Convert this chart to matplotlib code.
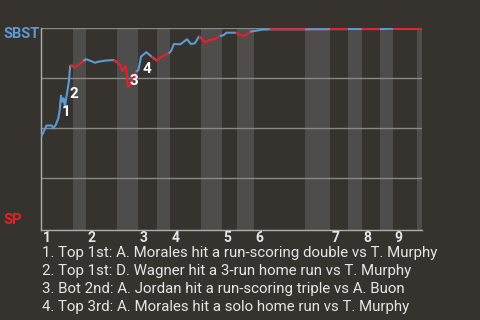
import numpy as np
import matplotlib.pyplot as plt

# Win probability for SBST (away), x = pitch number of the game
pitch = [0, 4, 8, 9, 11, 13, 14, 15, 16, 17, 18, 19, 21, 22, 24,
         25, 29, 32, 34,
         37, 41, 43, 49, 55, 58,
         60, 62, 64, 65, 66, 67, 70, 72, 74,
         76, 80, 84, 88,
         92, 95, 97, 98,
         99, 101, 106, 111, 114, 117, 120, 122,
         125, 128, 132, 136, 138,
         139, 141, 148, 149,
         150, 154, 156, 159, 162,
         168, 174, 201,
         220, 234, 244, 258, 268, 286, 290]
win_prob = [0.456, 0.512, 0.512, 0.498, 0.515, 0.549, 0.590, 0.662, 0.632, 0.649, 0.607, 0.649, 0.732, 0.812, 0.812,
            0.802, 0.819, 0.836, 0.845,
            0.838, 0.827, 0.832, 0.838, 0.841, 0.829,
            0.816, 0.786, 0.811, 0.782, 0.707, 0.707, 0.751, 0.782, 0.791,
            0.858, 0.880, 0.858, 0.838,
            0.858, 0.870, 0.875, 0.880,
            0.888, 0.921, 0.920, 0.945, 0.921, 0.925, 0.958, 0.950,
            0.930, 0.941, 0.945, 0.961, 0.964,
            0.966, 0.978, 0.978, 0.975,
            0.971, 0.961, 0.966, 0.983, 0.986,
            0.993, 0.995, 0.995,
            0.996, 0.996, 0.996, 0.996, 0.999, 0.999, 1.0]

# half-inning boundaries (pitch numbers): top1, bot1, top2, bot2, ...
half_starts = [0, 24, 34, 58, 74, 88, 98, 122, 138, 149, 162, 201, 220, 234, 244, 258, 268, 286]
game_end = 290
innings = ["1", "2", "3", "4", "5", "6", "7", "8", "9"]

# big plays
event_pitch = [13, 19, 66, 74]
event_dx = [8, 8, 6, 8]
event_dy = [6, 4, 6, 1]
notes = ["1. Top 1st: A. Morales hit a run-scoring double vs T. Murphy",
         "2. Top 1st: D. Wagner hit a 3-run home run vs T. Murphy",
         "3. Bot 2nd: A. Jordan hit a run-scoring triple vs A. Buon",
         "4. Top 3rd: A. Morales hit a solo home run vs T. Murphy"]

bg = "#36332f"
shade = "#4f4d4b"
blue = "#5b9bd5"
red = "#e8202a"
txt = "#e6e6e6"

plt.rcParams['font.family'] = ['Roboto', 'DejaVu Sans']

fig = plt.figure(figsize=(4.8, 3.2), dpi=100, facecolor=bg)
ax = fig.add_axes([41.3 / 480, 1 - 230 / 320, (422 - 41.3) / 480, (230 - 28.3) / 320])
ax.set_facecolor(bg)

bounds = half_starts + [game_end]
for i in range(1, len(half_starts), 2):
    ax.axvspan(bounds[i], bounds[i + 1], color=shade, lw=0, zorder=0)

for g in [0.25, 0.5, 0.75, 1.0]:
    ax.axhline(g, color="#8a8885", lw=1, zorder=1)

x = np.array(pitch)
y = np.array(win_prob)
for i in range(len(half_starts)):
    a, b = bounds[i], bounds[i + 1]
    m = (x >= a) & (x <= b)
    idx = np.where(m)[0]
    if len(idx) == 0:
        continue
    if idx[0] > 0:
        idx = np.r_[idx[0] - 1, idx]
    col = blue if i % 2 == 0 else red
    ax.plot(x[idx], y[idx], color=col, lw=1.5, zorder=3, solid_capstyle="butt")

for k, p in enumerate(event_pitch):
    yv = np.interp(p, x, y)
    ax.annotate(str(k + 1), (p, yv), xytext=(event_dx[k], event_dy[k]),
                textcoords="offset pixels", color="white", fontsize=11, fontweight="bold",
                ha="center", va="center", zorder=4)

ax.set_xlim(0, game_end)
ax.set_ylim(-0.012, 1.0)
ax.set_xticks([])
ax.set_yticks([])
for s in ["top", "right"]:
    ax.spines[s].set_visible(False)
for s in ["left", "bottom"]:
    ax.spines[s].set_color("#b0aeab")
    ax.spines[s].set_linewidth(1)

for n, lab in enumerate(innings):
    ax.text(half_starts[2 * n] + 1, -0.04, lab, color=txt, fontsize=10, fontweight="bold",
            ha="left", va="center", transform=ax.get_xaxis_transform())

fig.text(3 / 480, 1 - 33.7 / 320, "SBST", color=blue, fontsize=10.5, fontweight="bold", va="center")
fig.text(3 / 480, 1 - 219.7 / 320, "SP", color=red, fontsize=10.5, fontweight="bold", va="center")

for j, line in enumerate(notes):
    fig.text(42.5 / 480, 1 - (253 + 18 * j) / 320, line, color=txt, fontsize=10.8, va="center")

fig.savefig("out.png", dpi=100, facecolor=bg)
